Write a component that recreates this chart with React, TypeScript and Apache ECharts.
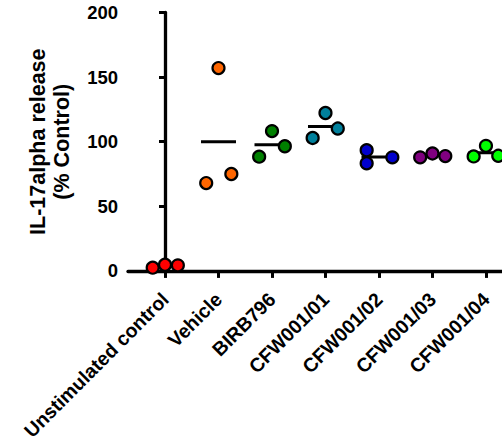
import React, { useEffect, useRef } from "react";
import * as echarts from "echarts";

const categories = [
  "Unstimulated control",
  "Vehicle",
  "BIRB796",
  "CFW001/01",
  "CFW001/02",
  "CFW001/03",
  "CFW001/04",
];

const groupValues: number[][] = [
  [2.5, 4.8, 4.3],
  [68, 157, 75],
  [88.4, 108.2, 96.5],
  [102.9, 122.2, 110.2],
  [93.4, 83.3, 87.9],
  [87.9, 90.9, 88.9],
  [88.6, 96.8, 89.1],
];

// horizontal scatter offsets of each replicate (category units)
const jitter: number[][] = [
  [-0.23, 0, 0.24],
  [-0.23, 0, 0.24],
  [-0.24, 0, 0.24],
  [-0.24, 0, 0.23],
  [-0.23, -0.23, 0.25],
  [-0.23, 0, 0.24],
  [-0.23, 0, 0.23],
];

const colors = ["#FF0000", "#FF6600", "#008000", "#00809C", "#0000CC", "#800080", "#00FF00"];

const yTicks = [0, 50, 100, 150, 200];

const FONT = "Arial, 'Liberation Sans', sans-serif";

export default function App() {
  const ref = useRef<HTMLDivElement>(null);
  useEffect(() => {
    if (!ref.current) return;
    const chart = echarts.init(ref.current, undefined, { renderer: "svg" });
    const means = groupValues.map((g) => g.reduce((a, b) => a + b, 0) / g.length);
    const scatterSeries = groupValues.map((g, i) => ({
      type: "scatter",
      name: categories[i],
      z: 3,
      symbol: "circle",
      symbolSize: 12,
      itemStyle: { color: colors[i], borderColor: "#000", borderWidth: 2.2, opacity: 1 },
      data: g.map((v, j) => [i + jitter[i][j], v]),
      clip: false,
    }));
    chart.setOption({
      animation: false,
      grid: { left: 128, right: 0, top: 12.5, bottom: 169, containLabel: false },
      xAxis: {
        type: "value",
        min: -0.692,
        max: 6.3,
        splitLine: { show: false },
        axisLine: { show: true, lineStyle: { color: "#000", width: 3.3 } },
        axisTick: {
          show: true,
          customValues: categories.map((_, i) => i),
          length: 7,
          lineStyle: { color: "#000", width: 3 },
        },
        axisLabel: {
          customValues: categories.map((_, i) => i),
          formatter: (v: number) => categories[Math.round(v)] ?? "",
          rotate: 45,
          margin: 25,
          color: "#000",
          fontWeight: "bold",
          fontSize: 19.5,
          fontFamily: FONT,
        },
      },
      yAxis: {
        type: "value",
        min: yTicks[0],
        max: yTicks[yTicks.length - 1],
        interval: 50,
        name: "IL-17alpha release\n(% Control)",
        nameLocation: "middle",
        nameGap: 54,
        nameTextStyle: {
          color: "#000",
          fontWeight: "bold",
          fontSize: 21.5,
          fontFamily: FONT,
          lineHeight: 24,
        },
        splitLine: { show: false },
        axisLine: { show: true, lineStyle: { color: "#000", width: 3.3 } },
        axisTick: { show: true, length: 6, lineStyle: { color: "#000", width: 3 } },
        axisLabel: {
          margin: 10,
          color: "#000",
          fontWeight: "bold",
          fontSize: 18.5,
          fontFamily: FONT,
        },
      },
      series: [
        {
          type: "custom",
          z: 2,
          data: means.map((m, i) => [i, m]),
          renderItem: (params: any, api: any) => {
            const x = api.value(0);
            const y = api.value(1);
            const p1 = api.coord([x - 0.327, y]);
            const p2 = api.coord([x + 0.327, y]);
            return {
              type: "line",
              shape: { x1: p1[0], y1: p1[1], x2: p2[0], y2: p2[1] },
              style: { stroke: "#000", lineWidth: 3 },
            };
          },
        },
        ...scatterSeries,
      ],
    });
    return () => chart.dispose();
  }, []);
  return (
    <div
      ref={ref}
      style={{ position: "fixed", left: 0, top: 0, width: 502, height: 443, background: "#fff" }}
    />
  );
}
